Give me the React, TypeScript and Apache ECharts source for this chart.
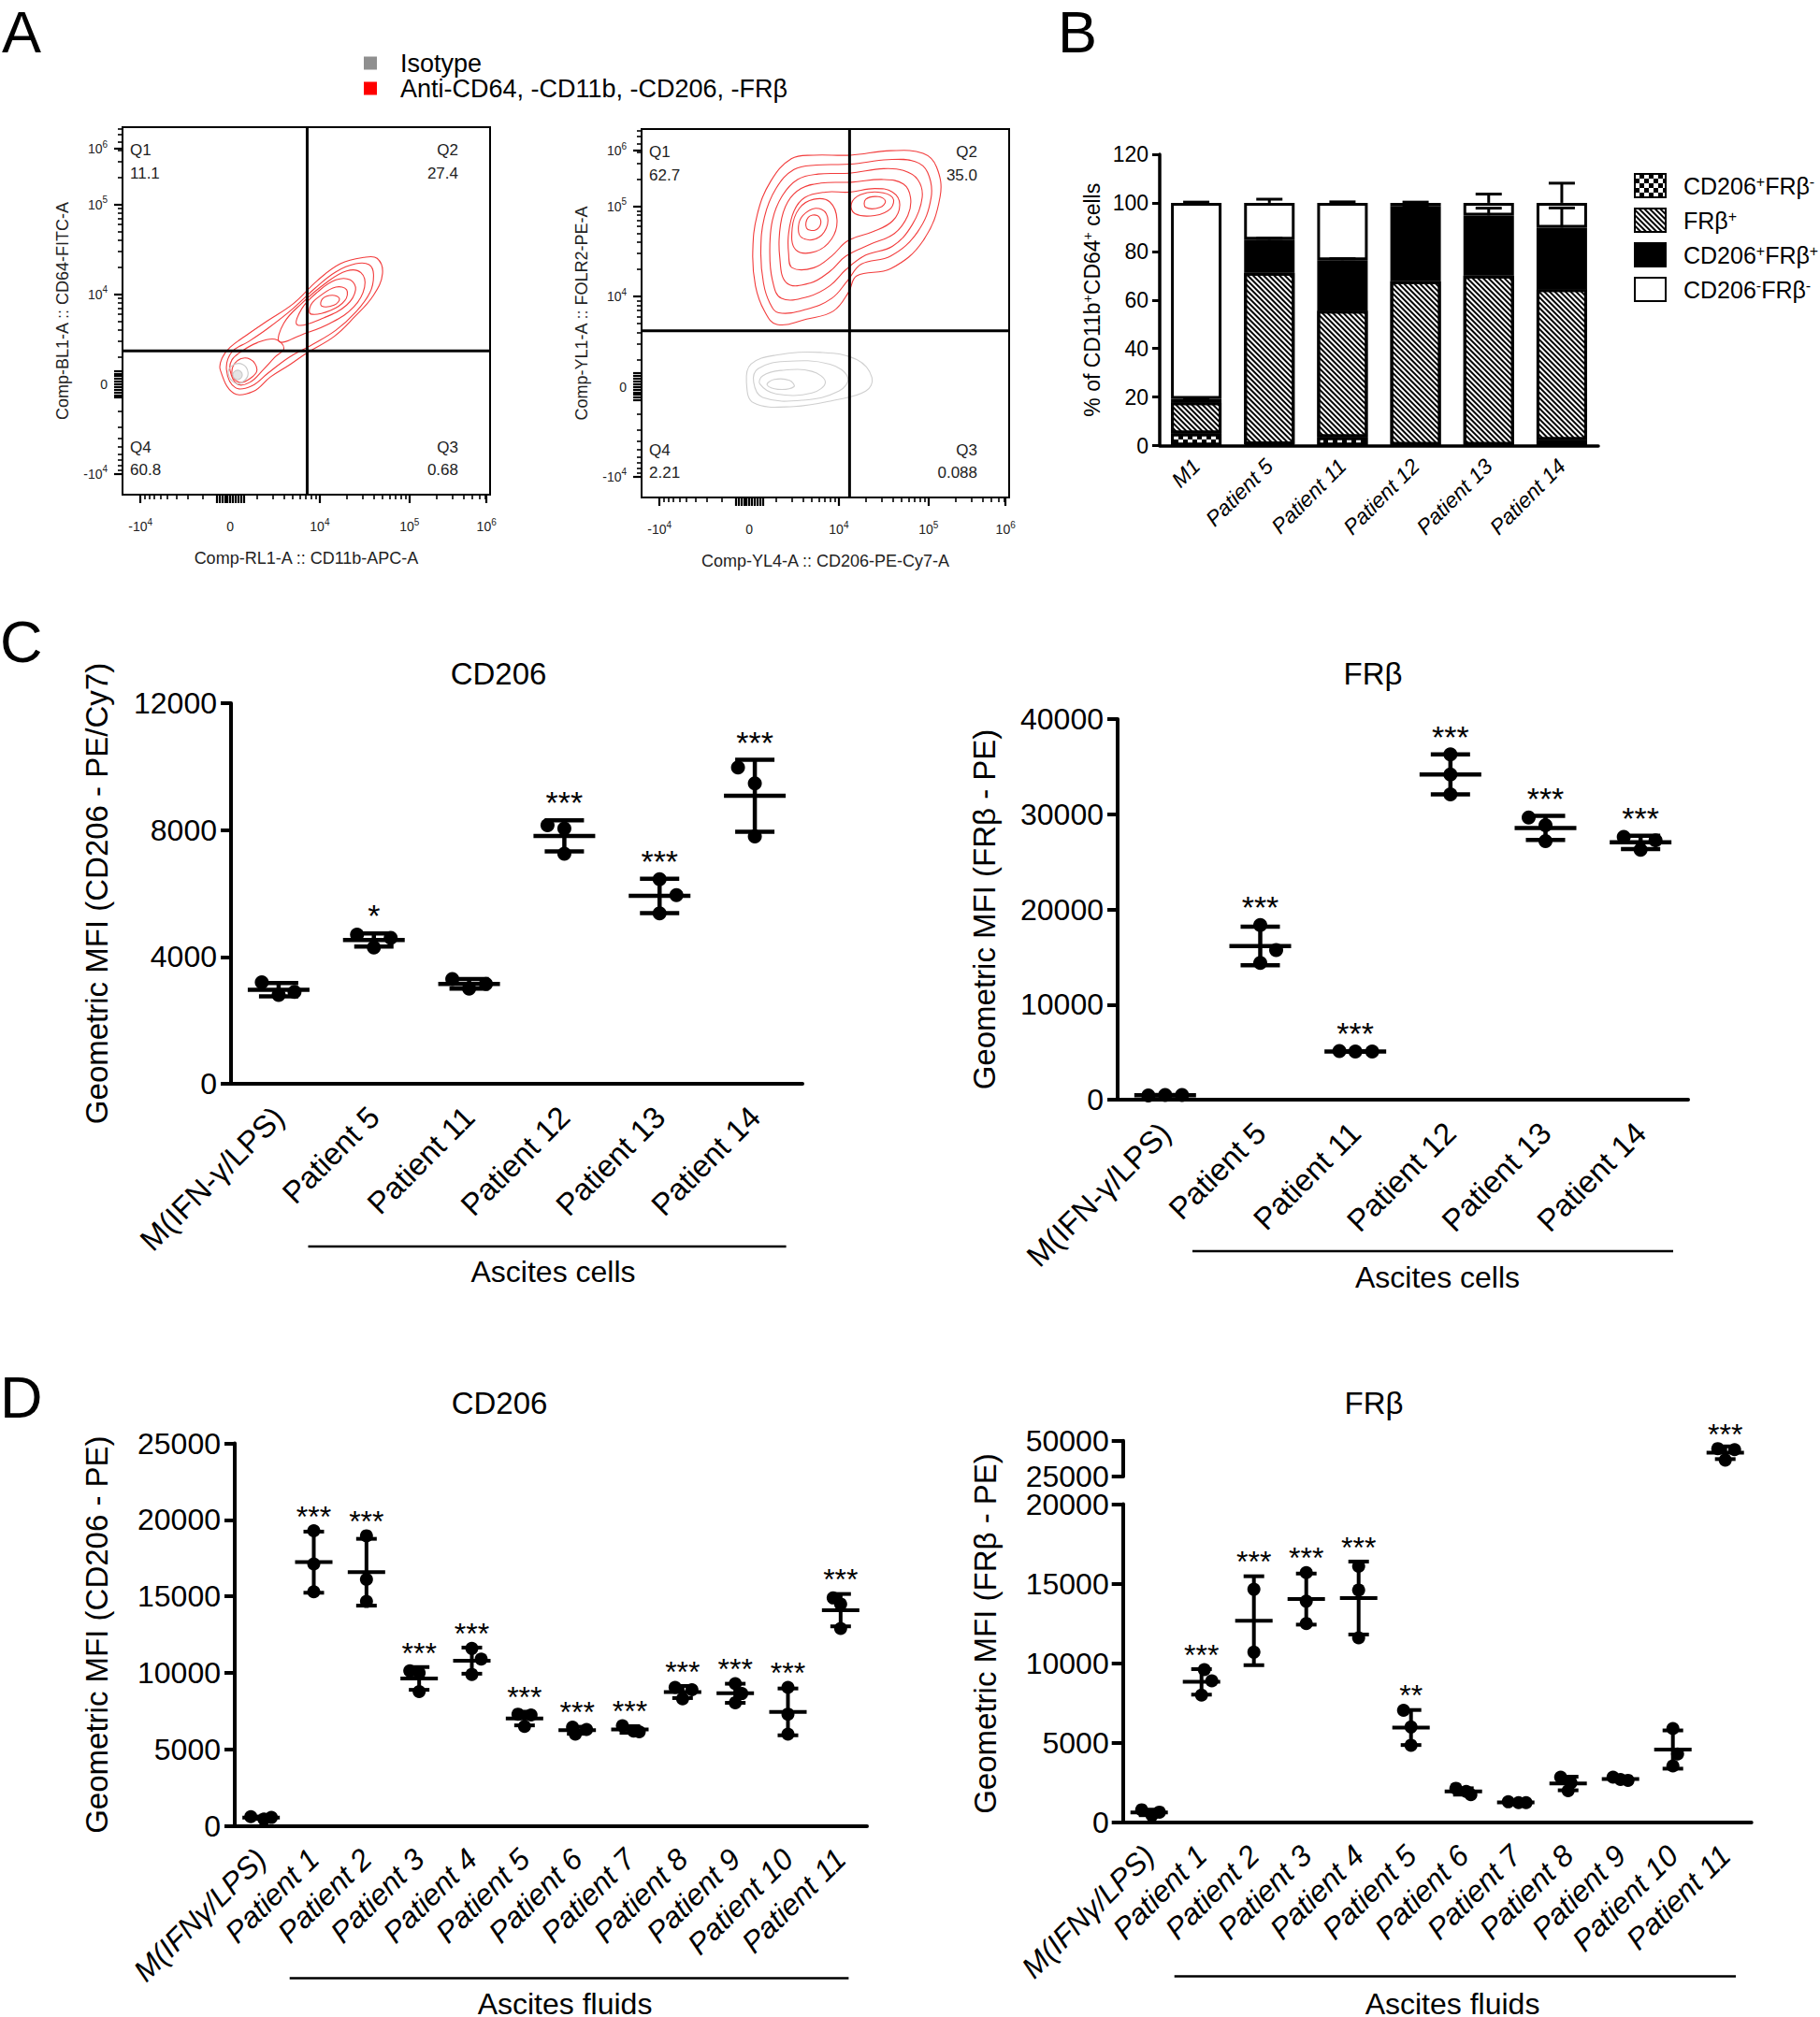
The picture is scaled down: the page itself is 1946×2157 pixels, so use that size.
import React, { useEffect, useRef } from "react";
import * as echarts from "echarts";

const FONT = '"Liberation Sans", Arial, Helvetica, sans-serif';

/* ================= Panel A : flow cytometry contour plots ================= */
const flowLegendNames = ["Isotype", "Anti-CD64, -CD11b, -CD206, -FRβ"];
const flowQuadNames = ["Q1", "Q2", "Q3", "Q4"];
const flowLeftQuadPct = ["11.1", "27.4", "0.68", "60.8"];
const flowRightQuadPct = ["62.7", "35.0", "0.088", "2.21"];
// gate positions in display units (-1 = -10^4, 0 = 0, 1 = 10^4, 2 = 10^5, 3 = 10^6)
const flowLeftGate = [0.86, 0.37];
const flowRightGate = [1.12, 0.62];
const flowLeftAxisNames = ["Comp-RL1-A :: CD11b-APC-A", "Comp-BL1-A :: CD64-FITC-A"];
const flowRightAxisNames = ["Comp-YL4-A :: CD206-PE-Cy7-A", "Comp-YL1-A :: FOLR2-PE-A"];
const flowTickTexts = ["-10^4", "0", "10^4", "10^5", "10^6"];
const flowXTickPos = [-1, 0, 1, 2, 2.86];
const flowYTickPos = [-1, 0, 1, 2, 2.62];
const flowXRange = [-1.2, 2.9];
const flowYRange = [-1.23, 2.86];

// contour levels (display units)
const flowLeftRed = [
  [[-0.11, 0.16], [0.04, -0.1], [0.26, -0.08], [0.45, 0.08], [0.67, 0.22], [0.86, 0.35], [1.16, 0.53], [1.38, 0.74], [1.6, 0.99], [1.7, 1.23], [1.64, 1.4], [1.49, 1.41], [1.23, 1.34], [0.97, 1.15], [0.71, 0.9], [0.41, 0.7], [0.19, 0.55], [0.0, 0.41], [-0.09, 0.29]],
  [[-0.04, 0.16], [0.06, -0.04], [0.24, -0.02], [0.42, 0.12], [0.66, 0.3], [0.9, 0.43], [1.18, 0.6], [1.4, 0.8], [1.56, 1.02], [1.6, 1.22], [1.55, 1.33], [1.4, 1.34], [1.18, 1.25], [0.95, 1.07], [0.7, 0.84], [0.42, 0.62], [0.2, 0.47], [0.02, 0.36]],
  [[0.0, 0.15], [0.08, 0.0], [0.22, 0.02], [0.36, 0.15], [0.5, 0.3], [0.6, 0.4], [0.5, 0.5], [0.3, 0.46], [0.12, 0.36], [0.02, 0.27]],
  [[0.55, 0.47], [0.8, 0.55], [1.12, 0.68], [1.38, 0.86], [1.5, 1.08], [1.46, 1.24], [1.3, 1.26], [1.06, 1.12], [0.8, 0.9], [0.6, 0.68]],
  [[0.75, 0.66], [1.05, 0.74], [1.3, 0.88], [1.4, 1.05], [1.34, 1.16], [1.18, 1.16], [0.98, 1.03], [0.8, 0.84]],
  [[0.9, 0.78], [1.12, 0.82], [1.28, 0.93], [1.3, 1.05], [1.18, 1.08], [1.0, 0.98], [0.9, 0.88]],
  [[1.02, 0.87], [1.16, 0.88], [1.22, 0.95], [1.14, 0.99], [1.03, 0.95]],
  [[0.02, 0.12], [0.1, 0.02], [0.22, 0.06], [0.3, 0.16], [0.22, 0.28], [0.08, 0.26]],
];
const flowLeftGray = [
  [[-0.02, 0.12], [0.06, 0.01], [0.16, 0.04], [0.2, 0.13], [0.14, 0.22], [0.03, 0.21]],
  [[0.03, 0.1], [0.08, 0.05], [0.13, 0.08], [0.12, 0.14], [0.06, 0.15]],
];
const flowRightRed = [
  [[0.31, 0.69], [0.64, 0.75], [0.94, 0.84], [1.11, 1.05], [1.2, 1.23], [1.58, 1.31], [1.94, 1.62], [2.13, 2.11], [2.09, 2.44], [1.94, 2.59], [1.58, 2.62], [1.13, 2.57], [0.72, 2.57], [0.47, 2.53], [0.24, 2.28], [0.09, 1.91], [0.04, 1.49], [0.07, 1.12], [0.17, 0.84]],
  [[0.33, 0.82], [0.64, 0.86], [0.92, 0.98], [1.1, 1.18], [1.25, 1.36], [1.58, 1.45], [1.88, 1.72], [2.03, 2.1], [1.99, 2.38], [1.85, 2.5], [1.55, 2.52], [1.13, 2.47], [0.75, 2.46], [0.5, 2.41], [0.3, 2.2], [0.17, 1.88], [0.13, 1.5], [0.16, 1.15], [0.23, 0.93]],
  [[0.36, 0.98], [0.66, 1.0], [0.9, 1.12], [1.08, 1.3], [1.3, 1.46], [1.6, 1.56], [1.82, 1.8], [1.93, 2.1], [1.88, 2.3], [1.72, 2.4], [1.5, 2.42], [1.12, 2.37], [0.77, 2.36], [0.54, 2.3], [0.37, 2.12], [0.26, 1.85], [0.23, 1.5], [0.26, 1.18]],
  [[0.42, 1.15], [0.68, 1.15], [0.9, 1.28], [1.08, 1.45], [1.35, 1.58], [1.62, 1.7], [1.77, 1.9], [1.8, 2.1], [1.72, 2.25], [1.5, 2.3], [1.14, 2.27], [0.8, 2.26], [0.58, 2.2], [0.43, 2.05], [0.35, 1.8], [0.34, 1.45]],
  [[0.48, 1.32], [0.72, 1.32], [0.92, 1.45], [1.1, 1.62], [1.38, 1.72], [1.6, 1.84], [1.68, 2.02], [1.6, 2.16], [1.4, 2.2], [1.12, 2.16], [0.85, 2.16], [0.62, 2.1], [0.5, 1.95], [0.44, 1.7], [0.44, 1.48]],
  [[0.52, 1.52], [0.74, 1.5], [0.92, 1.64], [0.98, 1.85], [0.9, 2.05], [0.72, 2.08], [0.56, 1.98], [0.48, 1.76]],
  [[0.58, 1.66], [0.74, 1.64], [0.86, 1.76], [0.86, 1.92], [0.74, 1.98], [0.6, 1.9], [0.55, 1.78]],
  [[0.64, 1.76], [0.74, 1.74], [0.8, 1.82], [0.76, 1.9], [0.66, 1.88]],
  [[1.18, 1.92], [1.4, 1.9], [1.58, 1.98], [1.6, 2.1], [1.44, 2.16], [1.24, 2.13], [1.14, 2.03]],
  [[1.3, 1.99], [1.46, 1.99], [1.52, 2.06], [1.44, 2.11], [1.3, 2.08]],
];
const flowRightGray = [
  [[-0.03, 0.05], [0.05, -0.18], [0.5, -0.22], [0.95, -0.15], [1.3, -0.05], [1.37, 0.1], [1.2, 0.3], [0.8, 0.38], [0.3, 0.35], [0.02, 0.25]],
  [[0.05, 0.05], [0.15, -0.12], [0.6, -0.15], [1.0, -0.05], [1.1, 0.1], [0.9, 0.25], [0.4, 0.28], [0.1, 0.2]],
  [[0.12, 0.03], [0.3, -0.08], [0.7, -0.07], [0.85, 0.05], [0.7, 0.17], [0.35, 0.18], [0.15, 0.12]],
  [[0.2, 0.02], [0.32, -0.03], [0.5, 0.0], [0.45, 0.07], [0.28, 0.08]],
];

/* ================= Panel B : stacked bars ================= */
const bCats = ["M1", "Patient 5", "Patient 11", "Patient 12", "Patient 13", "Patient 14"];
const bSeriesNames = ["CD206+FRβ-", "FRβ+", "CD206+FRβ+", "CD206-FRβ-"];
const bCd206PosFrbNeg = [5.0, 0.5, 3.5, 0.3, 0.3, 2.3];
const bFrbPos = [12.8, 70.7, 52.1, 67.4, 69.7, 62.1];
const bCd206PosFrbPos = [1.5, 13.6, 20.8, 30.8, 24.8, 25.4];
const bCd206NegFrbNeg = [80.7, 15.2, 23.6, 1.5, 5.2, 10.2];
const bSdDoubleNeg = [0.3, 1.5, 0.4, 0.3, 3.6, 8.1];
const bSdDoublePos = [0.3, 0.6, 0.6, 0.4, 3.0, 8.1];
const bYTicks = [0, 120, 20];

/* ================= Panel C : ascites cells ================= */
const cellCats = ["M(IFN-γ/LPS)", "Patient 5", "Patient 11", "Patient 12", "Patient 13", "Patient 14"];
const cellCd206 = [[3200, 2800, 2900], [4700, 4300, 4600], [3300, 3000, 3150], [8150, 8050, 7250], [6450, 5950, 5370], [9970, 9470, 7800]];
const cellCd206Sig = ["", "*", "", "***", "***", "***"];
const cellFrb = [[450, 500, 480], [18350, 15730, 14370], [5100, 5050, 5050], [36300, 34170, 32090], [29650, 28840, 27170], [27620, 26260, 27260]];
const cellFrbSig = ["", "***", "***", "***", "***", "***"];

/* ================= Panel D : ascites fluids ================= */
const fluidCats = ["M(IFNγ/LPS)", "Patient 1", "Patient 2", "Patient 3", "Patient 4", "Patient 5", "Patient 6", "Patient 7", "Patient 8", "Patient 9", "Patient 10", "Patient 11"];
const fluidCd206 = [[600, 450, 550], [19290, 17120, 15300], [18960, 16110, 14670], [10130, 10000, 8780], [11600, 10900, 9900], [7300, 7250, 6500], [6450, 6300, 6000], [6550, 6200, 6150], [9050, 8900, 8300], [9300, 8650, 8050], [9050, 7300, 6000], [14900, 14500, 12900]];
const fluidCd206Sig = ["", "***", "***", "***", "***", "***", "***", "***", "***", "***", "***", "***"];
const fluidFrb = [[800, 450, 650], [9600, 8900, 8000], [14650, 10700], [15700, 13900, 12500], [16100, 14600, 11600], [7050, 6000, 4850], [2150, 1950, 1750], [1300, 1250, 1250], [2850, 2500, 2000], [2850, 2700, 2650], [5900, 4300, 3550], [44500, 43800, 36500]];
const fluidFrbSig = ["", "***", "***", "***", "***", "**", "", "", "", "", "", "***"];
const fluidFrbBreak = [20000, 25000, 50000];

/* ---- layout only (pixel offsets of the jittered dots) ---- */
const cellCd206Jit = [[-18, 0, 17], [-18, 0, 18], [-18, 0, 18], [-18, 0, 0], [0, 18, 0], [-18, 0, 0]];
const cellFrbJit = [[-18, 0, 18], [0, 17, 0], [-17, 0, 18], [0, 0, 0], [-18, 0, 0], [-18, 0, 16]];
const fluidCd206Jit = [[-11, 3, 11], [0, 0, 0], [0, 0, 0], [-10, 0, 0], [0, 10, 0], [-7, 7, 0], [-5, 10, -2], [-8, 4, 10], [-8, 10, 0], [0, 7, 0], [0, 0, 0], [-8, 0, 0]];
const fluidFrbJit = [[-8, 3, 11], [3, 11, 0], [0, 0], [0, 0, 0], [0, 0, 0], [-8, 0, 0], [-8, 3, 8], [-8, 3, 11], [-8, 3, 0], [-8, 0, 8], [0, 5, 0], [-8, 10, 0]];

const G = {
  flowL: { left: 131, top: 136, width: 393, height: 393 },
  flowR: { left: 686, top: 138, width: 393, height: 394 },
  b: { left: 1240, top: 165, width: 469, height: 311.5 },
  cL: { left: 247, top: 752, width: 611, height: 407 },
  cR: { left: 1195, top: 769, width: 610, height: 407 },
  dL: { left: 251, top: 1543.6, width: 676, height: 409 },
  dRlow: { left: 1200.7, top: 1608.5, width: 672, height: 340.5 },
  dRup: { left: 1200.7, top: 1540.7, width: 672, height: 38.3 },
};

const decadeMinor = [2, 3, 4, 5, 6, 7, 8, 9].map((k) => Math.log10(k));
const zeroCluster = [-0.15, -0.12, -0.09, -0.06, -0.03, 0, 0.03, 0.06, 0.09, 0.12, 0.15];
const minorTicks = (min: number, max: number) =>
  [...decadeMinor.map((d) => -d), ...decadeMinor, ...decadeMinor.map((d) => 1 + d), ...decadeMinor.map((d) => 2 + d)].filter((v) => v < max && v > min);

const flowRich = {
  b: { fontSize: 14, lineHeight: 20, color: "#222", fontFamily: FONT },
  p: { fontSize: 10, lineHeight: 10, color: "#222", verticalAlign: "top", fontFamily: FONT },
};
const flowLabel = (pos: number[]) => (v: number) => {
  const i = pos.findIndex((p) => Math.abs(p - v) < 1e-6);
  if (i < 0) return "";
  const [base, exp] = flowTickTexts[i].split("^");
  return exp ? `{b|${base}}{p|${exp}}` : `{b|${base}}`;
};
const supRich = (name: string) =>
  name
    .split(/([+-])(?=FR|$)/)
    .filter(Boolean)
    .map((s) => (s === "+" || s === "-" ? `{p|${s}}` : `{b|${s}}`))
    .join("");

function flowAxes(grid: number, names: string[]) {
  const base = { type: "value", gridIndex: grid, axisLine: { show: false, onZero: false }, splitLine: { show: false } };
  const xs = [
    {
      ...base, position: "bottom", min: flowXRange[0], max: flowXRange[1],
      axisTick: { customValues: minorTicks(flowXRange[0], flowXRange[1]), length: 5, lineStyle: { color: "#000", width: 1.6 } },
      axisLabel: { show: false },
    },
    {
      ...base, position: "bottom", min: flowXRange[0], max: flowXRange[1],
      axisTick: { customValues: [...flowXTickPos, ...zeroCluster], length: 9, lineStyle: { color: "#000", width: 2.2 } },
      axisLabel: { customValues: flowXTickPos, formatter: flowLabel(flowXTickPos), rich: flowRich, margin: 24 },
      name: names[0], nameLocation: "middle", nameGap: 59,
      nameTextStyle: { fontSize: 18, color: "#222", fontFamily: FONT },
    },
  ];
  const ys = [
    {
      ...base, position: "left", min: flowYRange[0], max: flowYRange[1],
      axisTick: { customValues: minorTicks(flowYRange[0], flowYRange[1]), length: 5, lineStyle: { color: "#000", width: 1.6 } },
      axisLabel: { show: false },
    },
    {
      ...base, position: "left", min: flowYRange[0], max: flowYRange[1],
      axisTick: { customValues: [...flowYTickPos, ...zeroCluster], length: 9, lineStyle: { color: "#000", width: 2.2 } },
      axisLabel: { customValues: flowYTickPos, formatter: flowLabel(flowYTickPos), rich: flowRich, margin: 16 },
      name: names[1], nameLocation: "middle", nameGap: 55,
      nameTextStyle: { fontSize: 18, color: "#222", fontFamily: FONT },
    },
  ];
  return { xs, ys };
}

function ringSeries(name: string, rings: number[][][], axis: number, color: string, fill: string, z: number) {
  return {
    type: "custom", name, xAxisIndex: axis, yAxisIndex: axis, z, silent: true, clip: true,
    itemStyle: { color },
    data: rings.map((r) => r[0]),
    renderItem: (params: any, api: any) => {
      const ring = rings[params.dataIndex];
      const pts = ring.map((p) => api.coord(p));
      const inner = params.dataIndex === rings.length - 1;
      return { type: "polygon", shape: { points: pts, smooth: 0.4 }, style: { fill: inner ? fill : "none", stroke: color, lineWidth: 1.1 } };
    },
  };
}

function gateSeries(gate: number[], pct: string[], axis: number) {
  return {
    type: "custom", xAxisIndex: axis, yAxisIndex: axis, z: 6, silent: true, clip: false,
    data: [gate],
    renderItem: (params: any, api: any) => {
      const gx = api.value(0), gy = api.value(1);
      const v1 = api.coord([gx, flowYRange[0]]), v2 = api.coord([gx, flowYRange[1]]);
      const h1 = api.coord([flowXRange[0], gy]), h2 = api.coord([flowXRange[1], gy]);
      const tl = api.coord([flowXRange[0], flowYRange[1]]), br = api.coord([flowXRange[1], flowYRange[0]]);
      const ls = { stroke: "#000", lineWidth: 3 };
      const txt = (x: number, y: number, text: string, align: string) => ({
        type: "text", x, y, style: { text, fontSize: 17, fontFamily: FONT, fill: "#222", align, verticalAlign: "middle" },
      });
      return {
        type: "group",
        children: [
          { type: "line", shape: { x1: v1[0], y1: v1[1], x2: v2[0], y2: v2[1] }, style: ls },
          { type: "line", shape: { x1: h1[0], y1: h1[1], x2: h2[0], y2: h2[1] }, style: ls },
          txt(tl[0] + 8, tl[1] + 24, flowQuadNames[0], "left"),
          txt(tl[0] + 8, tl[1] + 49, pct[0], "left"),
          txt(br[0] - 34, tl[1] + 24, flowQuadNames[1], "right"),
          txt(br[0] - 34, tl[1] + 49, pct[1], "right"),
          txt(br[0] - 34, br[1] - 51, flowQuadNames[2], "right"),
          txt(br[0] - 34, br[1] - 27, pct[2], "right"),
          txt(tl[0] + 8, br[1] - 51, flowQuadNames[3], "left"),
          txt(tl[0] + 8, br[1] - 27, pct[3], "left"),
        ],
      };
    },
  };
}

function dotSeries(o: any) {
  const { axis, values, jit, sig, groups, r, meanHalf, capHalf, lw, starSize, starGap } = o;
  const dotData: number[][] = [];
  groups.forEach((g: number) => values[g].forEach((v: number, k: number) => dotData.push([g, v, jit[g][k]])));
  const stats = groups.map((g: number) => {
    const vals = values[g];
    const n = vals.length;
    const m = vals.reduce((a: number, b: number) => a + b, 0) / n;
    const sd = Math.sqrt(vals.reduce((a: number, b: number) => a + (b - m) * (b - m), 0) / (n - 1));
    return [g, m, sd, Math.max(...vals)];
  });
  return [
    {
      type: "custom", xAxisIndex: axis, yAxisIndex: axis, data: dotData, clip: false, z: 3, silent: true,
      renderItem: (params: any, api: any) => {
        const p = api.coord([api.value(0), api.value(1)]);
        return { type: "circle", shape: { cx: p[0] + api.value(2), cy: p[1], r }, style: { fill: "#000" } };
      },
    },
    {
      type: "custom", xAxisIndex: axis, yAxisIndex: axis, data: stats, clip: false, z: 4, silent: true,
      renderItem: (params: any, api: any) => {
        const g = api.value(0), m = api.value(1), sd = api.value(2), mx = api.value(3);
        const pm = api.coord([g, m]);
        const pt = api.coord([g, m + sd]);
        const pb = api.coord([g, m - sd]);
        const ptop = api.coord([g, Math.max(m + sd, mx)]);
        const x = pm[0];
        const s = { stroke: "#000", lineWidth: lw };
        const children: any[] = [
          { type: "line", shape: { x1: x - meanHalf, y1: pm[1], x2: x + meanHalf, y2: pm[1] }, style: s },
          { type: "line", shape: { x1: x, y1: pt[1], x2: x, y2: pb[1] }, style: s },
          { type: "line", shape: { x1: x - capHalf, y1: pt[1], x2: x + capHalf, y2: pt[1] }, style: s },
          { type: "line", shape: { x1: x - capHalf, y1: pb[1], x2: x + capHalf, y2: pb[1] }, style: s },
        ];
        const star = sig[g];
        if (star) {
          children.push({
            type: "text", x, y: ptop[1] - starGap + 0.18 * starSize,
            style: { text: star, fontSize: starSize, fontFamily: FONT, fill: "#000", align: "center", verticalAlign: "middle" },
          });
        }
        return { type: "group", children };
      },
    },
  ];
}

const plain = (v: number) => String(v);

function catAxis(grid: number, cats: string[], italic: boolean, fontSize: number, margin: number, show = true) {
  return {
    type: "category", gridIndex: grid, data: cats, show, boundaryGap: true,
    axisLine: { lineStyle: { color: "#000", width: 4 } },
    axisTick: { alignWithLabel: true, length: 10, lineStyle: { color: "#000", width: 4 } },
    axisLabel: { interval: 0, rotate: 45, fontSize, fontFamily: FONT, color: "#000", margin, fontStyle: italic ? "italic" : "normal" },
    splitLine: { show: false },
  };
}
function valAxis(grid: number, min: number, max: number, interval: number, name: string, nameGap: number, tickLen = 11) {
  return {
    type: "value", gridIndex: grid, min, max, interval,
    axisLine: { show: true, lineStyle: { color: "#000", width: 4 } },
    axisTick: { show: true, length: tickLen, lineStyle: { color: "#000", width: 4 } },
    axisLabel: { fontSize: 32, fontFamily: FONT, color: "#000", margin: 15, formatter: plain },
    splitLine: { show: false },
    name, nameLocation: "middle", nameGap,
    nameTextStyle: { fontSize: 33, fontFamily: FONT, color: "#000" },
  };
}

function buildOption() {
  const fl = flowAxes(0, flowLeftAxisNames);
  const fr = flowAxes(1, flowRightAxisNames);

  const bRich = {
    b: { fontSize: 23, lineHeight: 26, fontFamily: FONT, color: "#000" },
    p: { fontSize: 14, lineHeight: 14, verticalAlign: "top", fontFamily: FONT, color: "#000" },
  };
  const legRich = {
    b: { fontSize: 25, lineHeight: 25, fontFamily: FONT, color: "#000" },
    p: { fontSize: 16, lineHeight: 13, verticalAlign: "top", fontFamily: FONT, color: "#000" },
  };

  const xAxis: any[] = [
    ...fl.xs, ...fr.xs,
    {
      type: "category", gridIndex: 2, data: bCats,
      axisLine: { lineStyle: { color: "#000", width: 3.5 } },
      axisTick: { alignWithLabel: true, length: 8, lineStyle: { color: "#000", width: 3 } },
      axisLabel: { interval: 0, rotate: 45, fontSize: 23, fontStyle: "italic", fontFamily: FONT, color: "#000", margin: 18 },
    },
    catAxis(3, cellCats, false, 33, 30),
    catAxis(4, cellCats, false, 33, 30),
    catAxis(5, fluidCats, true, 32, 30),
    catAxis(6, fluidCats, true, 32, 30),
    catAxis(7, fluidCats, true, 32, 30, false),
  ];
  const yAxis: any[] = [
    ...fl.ys, ...fr.ys,
    {
      type: "value", gridIndex: 2, min: bYTicks[0], max: bYTicks[1], interval: bYTicks[2],
      axisLine: { show: true, lineStyle: { color: "#000", width: 3.5 } },
      axisTick: { show: true, length: 8, lineStyle: { color: "#000", width: 3 } },
      axisLabel: { fontSize: 23, fontFamily: FONT, color: "#000", margin: 12 },
      splitLine: { show: false },
      name: "% of CD11b{p|+}CD64{p|+} cells", nameLocation: "middle", nameGap: 61,
      nameTextStyle: { fontSize: 23, fontFamily: FONT, color: "#000", rich: bRich },
    },
    valAxis(3, 0, 12000, 4000, "Geometric MFI (CD206 - PE/Cy7)", 127),
    valAxis(4, 0, 40000, 10000, "Geometric MFI (FRβ - PE)", 126),
    valAxis(5, 0, 25000, 5000, "Geometric MFI (CD206 - PE)", 131),
    valAxis(6, 0, fluidFrbBreak[0], 5000, "", 0, 12),
    valAxis(7, fluidFrbBreak[1], fluidFrbBreak[2], fluidFrbBreak[2] - fluidFrbBreak[1], "", 0, 12),
  ];

  const barBase = { type: "bar", stack: "b", xAxisIndex: 4, yAxisIndex: 4, barWidth: 54 };
  const border = { borderColor: "#000", borderWidth: 3 };
  const bTotals = bCats.map((_, i) => bCd206PosFrbNeg[i] + bFrbPos[i] + bCd206PosFrbPos[i] + bCd206NegFrbNeg[i]);
  const bBlackTop = bCats.map((_, i) => bCd206PosFrbNeg[i] + bFrbPos[i] + bCd206PosFrbPos[i]);

  const lowGroups = fluidFrb.map((v, i) => i).filter((i) => Math.max(...fluidFrb[i]) <= fluidFrbBreak[0]);
  const highGroups = fluidFrb.map((v, i) => i).filter((i) => Math.min(...fluidFrb[i]) >= fluidFrbBreak[1]);

  const series: any[] = [
    ringSeries(flowLegendNames[1], flowLeftRed, 1, "#f23c3c", "none", 2),
    ringSeries(flowLegendNames[0], flowLeftGray, 1, "#c8c8c8", "#e4e4e4", 3),
    gateSeries(flowLeftGate, flowLeftQuadPct, 1),
    ringSeries(flowLegendNames[1], flowRightRed, 3, "#f23c3c", "none", 2),
    ringSeries(flowLegendNames[0], flowRightGray, 3, "#cfcfcf", "none", 3),
    gateSeries(flowRightGate, flowRightQuadPct, 3),

    {
      ...barBase, name: bSeriesNames[0], data: bCd206PosFrbNeg,
      itemStyle: { color: "#fff", ...border, decal: { symbol: "rect", symbolSize: 1, dashArrayX: [[5, 5], [0, 5, 5, 0]], dashArrayY: [5, 0], color: "#000" } },
    },
    {
      ...barBase, name: bSeriesNames[1], data: bFrbPos,
      itemStyle: { color: "#fff", ...border, decal: { symbol: "rect", symbolSize: 1, dashArrayX: [1, 0], dashArrayY: [1.4, 1.8], rotation: Math.PI / 4, color: "#000" } },
    },
    { ...barBase, name: bSeriesNames[2], data: bCd206PosFrbPos, itemStyle: { color: "#000", ...border } },
    { ...barBase, name: bSeriesNames[3], data: bCd206NegFrbNeg, itemStyle: { color: "#fff", ...border } },
    {
      type: "custom", xAxisIndex: 4, yAxisIndex: 4, z: 5, silent: true, clip: false,
      data: bCats.map((_, i) => [i, bTotals[i], bSdDoubleNeg[i], bBlackTop[i], bSdDoublePos[i]]),
      renderItem: (params: any, api: any) => {
        const i = api.value(0);
        const s = { stroke: "#000", lineWidth: 3 };
        const bar = (base: number, sd: number) => {
          const p0 = api.coord([i, base]);
          const p1 = api.coord([i, base + sd]);
          return [
            { type: "line", shape: { x1: p0[0], y1: p0[1], x2: p1[0], y2: p1[1] }, style: s },
            { type: "line", shape: { x1: p1[0] - 14, y1: p1[1], x2: p1[0] + 14, y2: p1[1] }, style: s },
          ];
        };
        return { type: "group", children: [...bar(api.value(3), api.value(4)), ...bar(api.value(1), api.value(2))] };
      },
    },

    ...dotSeries({ axis: 5, values: cellCd206, jit: cellCd206Jit, sig: cellCd206Sig, groups: cellCats.map((c, i) => i), r: 7.5, meanHalf: 33, capHalf: 21, lw: 4.5, starSize: 34, starGap: 25 }),
    ...dotSeries({ axis: 6, values: cellFrb, jit: cellFrbJit, sig: cellFrbSig, groups: cellCats.map((c, i) => i), r: 7.5, meanHalf: 33, capHalf: 21, lw: 4.5, starSize: 34, starGap: 25 }),
    ...dotSeries({ axis: 7, values: fluidCd206, jit: fluidCd206Jit, sig: fluidCd206Sig, groups: fluidCats.map((c, i) => i), r: 7, meanHalf: 20, capHalf: 11, lw: 4, starSize: 32, starGap: 21 }),
    ...dotSeries({ axis: 8, values: fluidFrb, jit: fluidFrbJit, sig: fluidFrbSig, groups: lowGroups, r: 7, meanHalf: 20, capHalf: 11, lw: 4, starSize: 32, starGap: 21 }),
    ...dotSeries({ axis: 9, values: fluidFrb, jit: fluidFrbJit, sig: fluidFrbSig, groups: highGroups, r: 7, meanHalf: 20, capHalf: 11, lw: 4, starSize: 32, starGap: 19 }),
  ];

  const txt = (text: string, x: number, y: number, fontSize: number, extra: any = {}) => ({
    type: "text", x, y, silent: true,
    style: { text, fontSize, fontFamily: FONT, fill: "#000", align: "center", verticalAlign: "middle", ...extra },
  });
  const hline = (x1: number, x2: number, y: number) => ({
    type: "line", silent: true, shape: { x1, y1: y, x2, y2: y }, style: { stroke: "#000", lineWidth: 2.5 },
  });

  const graphic: any[] = [
    txt("A", 2, 34, 63, { align: "left" }),
    txt("B", 1131, 34, 63, { align: "left" }),
    txt("C", 0, 686, 63, { align: "left" }),
    txt("D", 0, 1494, 63, { align: "left" }),
    txt("CD206", 533, 720, 33),
    txt("FRβ", 1468, 720, 33),
    txt("CD206", 534, 1500, 33),
    txt("FRβ", 1469, 1500, 33),
    hline(329.5, 840.6, 1333),
    txt("Ascites cells", 591.5, 1360, 32),
    hline(1275, 1789, 1338),
    txt("Ascites cells", 1537, 1366, 32),
    hline(309.7, 907.4, 2115.6),
    txt("Ascites fluids", 604, 2143, 32),
    hline(1255.7, 1856, 2113.4),
    txt("Ascites fluids", 1553, 2143, 32),
    { ...txt("Geometric MFI (FRβ - PE)", 1053.7, 1747, 33), rotation: Math.PI / 2 },
  ];

  return {
    animation: false,
    backgroundColor: "#fff",
    textStyle: { fontFamily: FONT },
    grid: [G.flowL, G.flowR, G.b, G.cL, G.cR, G.dL, G.dRlow, G.dRup].map((g, i) =>
      i < 2 ? { ...g, show: true, borderColor: "#000", borderWidth: 2, containLabel: false } : { ...g, containLabel: false }
    ),
    xAxis,
    yAxis,
    legend: [
      {
        data: [
          { name: flowLegendNames[0], icon: "rect", itemStyle: { color: "#8f8f8f" } },
          { name: flowLegendNames[1], icon: "rect", itemStyle: { color: "#ff0000" } },
        ],
        orient: "vertical", left: 384, top: 49, itemWidth: 14, itemHeight: 14, itemGap: 0, selectedMode: false,
        textStyle: { fontSize: 27, fontFamily: FONT, color: "#000", lineHeight: 22, padding: [0, 0, 0, 20] },
      },
      {
        data: bSeriesNames, orient: "vertical", left: 1742, top: 180, itemWidth: 33, itemHeight: 25, itemGap: 10,
        selectedMode: false, icon: "rect",
        formatter: (name: string) => supRich(name),
        textStyle: { fontSize: 25, fontFamily: FONT, color: "#000", lineHeight: 25, padding: [0, 0, 0, 14], rich: legRich },
      },
    ],
    graphic,
    series,
  };
}

export default function App() {
  const ref = useRef<HTMLDivElement>(null);
  useEffect(() => {
    if (!ref.current) return;
    const chart = echarts.init(ref.current, null, { renderer: "svg" });
    chart.setOption(buildOption() as any);
    return () => chart.dispose();
  }, []);
  return <div ref={ref} style={{ position: "absolute", left: 0, top: 0, width: 1946, height: 2157, background: "#fff" }} />;
}
